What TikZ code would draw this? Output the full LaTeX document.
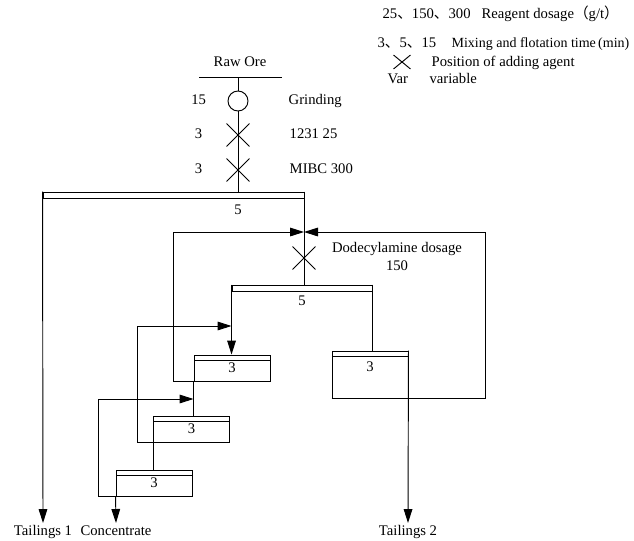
\documentclass[tikz,border=0pt]{standalone}
\usepackage{fontspec}
\setmainfont{Liberation Serif}
\newfontfamily\cjk{Noto Sans CJK SC}
\usepackage{tikz}
\usetikzlibrary{positioning,arrows.meta,shapes.misc}
\newcommand{\dun}{{\cjk 、}}
\newcommand{\lpar}{{\cjk （}}
\newcommand{\rpar}{{\cjk ）}}
\tikzset{
  flowline/.style={line width=0.7pt, draw=black},
  flowarr/.style={flowline, -{Triangle[length=10.5pt, width=6.5pt]}},
  bankbar/.style={draw, line width=0.7pt, rectangle, inner sep=0pt, minimum height=4.5pt},
  cellbox/.style={draw, line width=0.7pt, rectangle, inner sep=0pt, minimum width=57pt, minimum height=19.5pt,
    path picture={\draw[line width=0.7pt] ([yshift=-3.75pt]path picture bounding box.north west) -- ([yshift=-3.75pt]path picture bounding box.north east);}},
  addpt/.style={draw, cross out, line width=0.7pt, inner sep=0pt, minimum width=16.5pt, minimum height=16.5pt},
  millpt/.style={draw, circle, line width=0.7pt, inner sep=0pt, minimum size=15pt},
  txt/.style={inner sep=1pt, text height=7.5pt, text depth=2.5pt}
}

\begin{document}
\begin{tikzpicture}[x=0.75pt, y=-0.75pt, font=\fontsize{11}{13.5}\selectfont]
\useasboundingbox (0,0) rectangle (634,540);

% legend
\node[txt, anchor=west] (leg1a) at (381,15) {25\dun 150\dun 300};
\node[txt, anchor=west] (leg1b) at (480,15) {Reagent dosage\lpar g/t\rpar};
\node[txt, anchor=west] (leg2a) at (376,44) {3\dun 5\dun 15};
\node[txt, anchor=west, font=\fontsize{10.5}{13}\selectfont] (leg2b) at (450,44) {Mixing and flotation time\,(min)};
\node[addpt, minimum width=12pt, minimum height=9.75pt] (legx) at (402,62) {};
\node[txt, anchor=west] (leg3) at (430,63) {Position of adding agent};
\node[txt, anchor=west] (leg4a) at (386,80) {Var};
\node[txt, anchor=west] (leg4b) at (428,80) {variable};

% feed, grinding, reagents
\node[txt] (ore) at (240,63) {Raw Ore};
\coordinate (feedL) at (199,77);
\coordinate (feedR) at (282,77);
\coordinate (feed) at (238,77);
\node[millpt] (mill) at (238,101) {};
\node[addpt] (add1) at (238,135) {};
\node[addpt] (add2) at (238,170) {};
\node[txt, left=15pt of mill] (m15) {15};
\node[txt, right=29pt of mill] (mlbl) {Grinding};
\node[txt, left=17pt of add1] (a1t) {3};
\node[txt, right=29pt of add1] (a1lbl) {1231 25};
\node[txt, left=17pt of add2] (a2t) {3};
\node[txt, right=29pt of add2] (a2lbl) {MIBC 300};

% rougher
\node[bankbar, minimum width=195.75pt] (rough) at (173.5,195) {};
\node[txt] (rt) at (238,211) {5};
\coordinate (jn) at (304,232);
\node[addpt] (add3) at (304,258) {};
\node[txt, align=center] (a3lbl) at (397,267) {Dodecylamine dosage\\150};

% cleaning
\node[bankbar, minimum width=105pt] (cl1) at (302,288) {};
\node[txt] (c1t) at (302,302) {5};
\node[cellbox] (cell2) at (232,368) {3};
\node[cellbox, minimum height=35.25pt] (cell1) at (370,374.5) {};
\node[txt] (c1n) at (370,368) {3};
\node[cellbox] (cell3) at (191.5,429) {3};
\node[cellbox] (cell4) at (154,483) {3};

% returns and products
\coordinate (ret1) at (485,232);
\coordinate (ret2) at (173,232);
\coordinate (ret3) at (137,326);
\coordinate (ret4) at (98,399);
\coordinate (tipT1) at (43,523);
\coordinate (tipC) at (116,523);
\coordinate (tipT2) at (408,523);

\draw[flowline] (feedL) -- (feedR);
\draw[flowline] (feed) -- (mill.north);
\draw[flowline] (mill.south) -- (mill.south |- rough.north);
\draw[flowline] (rough.north east) -- (rough.north east |- cl1.north);
\draw[flowarr] (rough.north west) -- (tipT1);
\draw[flowarr] (cl1.north west) -- (cl1.north west |- cell2.north);
\draw[flowline] (cl1.north east) -- (cl1.north east |- cell1.north);
\draw[flowline] (cell2.south west) -- (cell2.south west |- cell3.north);
\draw[flowline] (cell3.south west) -- (cell3.south west |- cell4.north);
\draw[flowarr] (cell4.south west) -- (tipC);
\draw[flowarr] (cell1.north east) -- (tipT2);
\draw[flowarr] (cell2.south east) -| (ret2) -- (jn);
\draw[flowarr] (cell1.south west) -| (ret1) -- (jn);
\draw[flowarr] (cell3.south east) -| (ret3) -- (ret3 -| cl1.west);
\draw[flowarr] (cell4.south east) -| (ret4) -- (ret4 -| cell2.west);

\node[txt, below=0.5pt of tipT1] (t1lbl) {Tailings 1};
\node[txt, below=0.5pt of tipC] (clbl) {Concentrate};
\node[txt, below=0.5pt of tipT2] (t2lbl) {Tailings 2};
\end{tikzpicture}
\end{document}
